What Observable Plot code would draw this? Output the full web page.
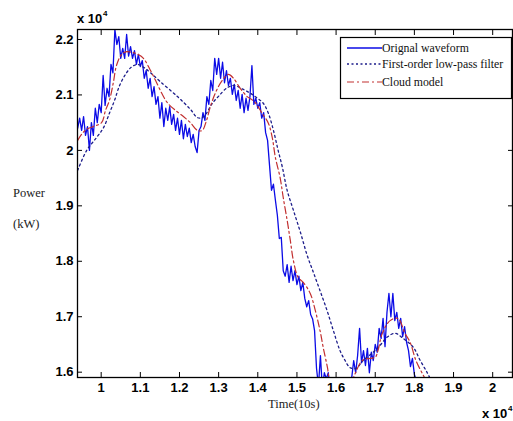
<!DOCTYPE html>
<html>
<head>
<meta charset="utf-8">
<script src="https://cdn.jsdelivr.net/npm/d3@7"></script>
<script src="https://cdn.jsdelivr.net/npm/@observablehq/plot@0.6"></script>
<style>
  html, body { margin: 0; padding: 0; background: white; }
  #chart { width: 513px; height: 421px; overflow: hidden; }
</style>
</head>
<body>
<div id="chart"></div>
<script>
// Time in units of 10^4 (×10 s), power in units of 10^4 kW
const originalWaveform = [
  [0.940,2.040],[0.945,2.058],[0.950,2.036],[0.955,2.061],[0.960,2.027],[0.965,2.043],[0.970,2.000],[0.975,2.050],
  [0.980,2.027],[0.985,2.076],[0.990,2.050],[0.995,2.083],[1.000,2.068],[1.005,2.135],[1.010,2.081],[1.015,2.112],
  [1.020,2.097],[1.025,2.155],[1.030,2.140],[1.035,2.218],[1.040,2.191],[1.045,2.205],[1.050,2.166],[1.055,2.184],
  [1.060,2.166],[1.065,2.209],[1.070,2.170],[1.075,2.187],[1.080,2.166],[1.085,2.180],[1.090,2.155],[1.095,2.173],
  [1.100,2.151],[1.105,2.162],[1.110,2.130],[1.115,2.144],[1.120,2.112],[1.125,2.130],[1.130,2.097],[1.135,2.115],
  [1.140,2.083],[1.145,2.097],[1.150,2.058],[1.155,2.086],[1.160,2.043],[1.165,2.076],[1.170,2.054],[1.175,2.079],
  [1.180,2.047],[1.185,2.065],[1.190,2.036],[1.195,2.058],[1.200,2.029],[1.205,2.054],[1.210,2.021],[1.215,2.047],
  [1.220,2.025],[1.225,2.040],[1.230,2.014],[1.235,2.029],[1.240,2.007],[1.245,1.996],[1.250,2.036],[1.255,2.043],
  [1.260,2.068],[1.265,2.054],[1.270,2.097],[1.275,2.083],[1.280,2.126],[1.285,2.108],[1.290,2.166],[1.295,2.137],
  [1.300,2.166],[1.305,2.130],[1.310,2.159],[1.315,2.122],[1.320,2.144],[1.325,2.117],[1.330,2.130],[1.335,2.101],
  [1.340,2.119],[1.345,2.090],[1.350,2.108],[1.355,2.076],[1.360,2.101],[1.365,2.068],[1.370,2.094],[1.375,2.072],
  [1.380,2.097],[1.385,2.153],[1.390,2.083],[1.395,2.094],[1.400,2.076],[1.405,2.086],[1.410,2.058],[1.415,2.068],
  [1.420,2.032],[1.425,2.018],[1.430,1.973],[1.435,1.928],[1.440,1.939],[1.445,1.910],[1.450,1.883],[1.455,1.841],
  [1.460,1.843],[1.465,1.783],[1.470,1.773],[1.475,1.794],[1.480,1.762],[1.485,1.791],[1.490,1.765],[1.495,1.783],
  [1.500,1.758],[1.505,1.773],[1.510,1.747],[1.515,1.762],[1.520,1.733],[1.525,1.718],[1.530,1.729],[1.535,1.704],
  [1.540,1.696],[1.545,1.675],[1.550,1.607],[1.555,1.575],[1.560,1.630],[1.565,1.570],[1.570,1.599],[1.575,1.588],
  [1.580,1.599],[1.585,1.570],[1.600,1.550],[1.620,1.540],[1.635,1.560],[1.645,1.621],[1.650,1.599],[1.655,1.630],
  [1.660,1.679],[1.665,1.617],[1.670,1.639],[1.675,1.612],[1.680,1.643],[1.685,1.599],[1.690,1.636],[1.695,1.621],
  [1.700,1.650],[1.705,1.636],[1.710,1.679],[1.715,1.661],[1.720,1.697],[1.725,1.646],[1.730,1.708],[1.735,1.742],
  [1.740,1.700],[1.745,1.742],[1.750,1.693],[1.755,1.708],[1.760,1.679],[1.765,1.697],[1.770,1.664],[1.775,1.682],
  [1.780,1.654],[1.785,1.639],[1.790,1.610],[1.795,1.625],[1.800,1.596],[1.805,1.585],[1.815,1.560]
];

const lowPassFilter = [
  [0.940,1.964],[0.963,2.000],[0.988,2.023],[1.006,2.041],[1.021,2.067],[1.034,2.090],[1.047,2.117],[1.062,2.137],
  [1.077,2.150],[1.093,2.155],[1.108,2.150],[1.126,2.140],[1.151,2.124],[1.195,2.097],[1.228,2.074],[1.246,2.059],
  [1.258,2.059],[1.269,2.067],[1.282,2.083],[1.299,2.097],[1.322,2.113],[1.340,2.117],[1.363,2.110],[1.381,2.103],
  [1.399,2.094],[1.414,2.085],[1.427,2.067],[1.440,2.036],[1.452,2.000],[1.463,1.969],[1.475,1.928],[1.491,1.892],
  [1.509,1.852],[1.526,1.811],[1.542,1.780],[1.559,1.747],[1.577,1.711],[1.593,1.675],[1.610,1.639],[1.623,1.621],
  [1.636,1.608],[1.651,1.607],[1.669,1.621],[1.695,1.636],[1.712,1.648],[1.730,1.663],[1.751,1.670],[1.771,1.661],
  [1.797,1.645],[1.815,1.621],[1.832,1.600],[1.843,1.585]
];

const cloudModel = [
  [0.940,2.018],[0.950,2.029],[0.963,2.038],[0.980,2.043],[1.001,2.050],[1.011,2.072],[1.021,2.090],[1.031,2.122],
  [1.039,2.153],[1.052,2.173],[1.065,2.178],[1.077,2.177],[1.095,2.173],[1.108,2.166],[1.126,2.144],[1.139,2.126],
  [1.154,2.104],[1.169,2.086],[1.190,2.072],[1.210,2.061],[1.228,2.050],[1.246,2.036],[1.258,2.036],[1.269,2.054],
  [1.279,2.079],[1.292,2.104],[1.309,2.126],[1.325,2.137],[1.338,2.130],[1.355,2.112],[1.373,2.097],[1.391,2.088],
  [1.411,2.067],[1.427,2.049],[1.437,2.023],[1.445,1.987],[1.457,1.951],[1.465,1.915],[1.475,1.874],[1.483,1.838],
  [1.491,1.801],[1.503,1.771],[1.516,1.762],[1.534,1.742],[1.547,1.711],[1.559,1.675],[1.567,1.645],[1.578,1.608],
  [1.585,1.580],[1.610,1.550],[1.636,1.575],[1.649,1.598],[1.667,1.621],[1.687,1.625],[1.700,1.627],[1.707,1.639],
  [1.718,1.670],[1.738,1.693],[1.758,1.697],[1.776,1.670],[1.789,1.654],[1.804,1.621],[1.820,1.598],[1.830,1.585]
];

const xTicks = [1, 1.1, 1.2, 1.3, 1.4, 1.5, 1.6, 1.7, 1.8, 1.9, 2];
const yTicks = [1.6, 1.7, 1.8, 1.9, 2, 2.1, 2.2];
const legendLabels = ["Orignal waveform", "First-order low-pass filter", "Cloud model"];

const toRows = arr => arr.map(([t, p]) => ({t, p}));

const colWave = "#0b0be6";
const colLpf = "#1c1c8a";
const colCloud = "#c23030";
const sans = "'Liberation Sans', Arial, sans-serif";
const serif = "'Liberation Serif', 'Times New Roman', serif";

const chart = Plot.plot({
  width: 513,
  height: 421,
  marginLeft: 77,
  marginTop: 29,
  marginRight: 1,
  marginBottom: 44,
  style: {background: "white", fontFamily: sans, fontSize: "13px", fontWeight: "bold", color: "black"},
  x: {domain: [0.9395, 2.0506], label: null},
  y: {domain: [1.5904, 2.218], label: null},
  marks: [
    Plot.line(toRows(originalWaveform), {x: "t", y: "p", stroke: colWave, strokeWidth: 1.3, clip: true}),
    Plot.line(toRows(lowPassFilter), {x: "t", y: "p", stroke: colLpf, strokeWidth: 1.3, strokeDasharray: "2,3", curve: "catmull-rom", clip: true}),
    Plot.line(toRows(cloudModel), {x: "t", y: "p", stroke: colCloud, strokeWidth: 1.2, strokeDasharray: "7,3,2,3", curve: "catmull-rom", clip: true}),
    Plot.frame({stroke: "black", strokeWidth: 1.3}),
    Plot.axisX(xTicks, {anchor: "bottom", tickSize: -5, tickPadding: 10, tickFormat: d => String(d), label: null, fill: "black"}),
    Plot.axisX(xTicks, {anchor: "top", tickSize: -5, tickFormat: () => "", label: null}),
    Plot.axisY(yTicks, {anchor: "left", tickSize: -5, tickPadding: 9, tickFormat: d => String(d), label: null, fill: "black"}),
    Plot.axisY(yTicks, {anchor: "right", tickSize: -5, tickFormat: () => "", label: null})
  ]
});

document.getElementById("chart").appendChild(chart);

// Annotations
const svg = d3.select(chart);
function addText(x, y, str, opts = {}) {
  return svg.append("text")
    .attr("x", x).attr("y", y)
    .attr("font-family", opts.family || serif)
    .attr("font-size", opts.size || 12.5)
    .attr("font-weight", opts.weight || "normal")
    .attr("fill", opts.fill || "#222")
    .attr("text-anchor", opts.anchor || "start")
    .text(str);
}
addText(13, 197, "Power");
addText(13, 228, "(kW)");
addText(268, 408, "Time(10s)");
// exponent labels
addText(77, 23, "x 10", {family: sans, size: 13, weight: "bold", fill: "black"});
addText(103, 16, "4", {family: sans, size: 8, weight: "bold", fill: "black"});
addText(482, 418, "x 10", {family: sans, size: 13, weight: "bold", fill: "black"});
addText(508, 411, "4", {family: sans, size: 8, weight: "bold", fill: "black"});

// Legend
const lg = svg.append("g");
lg.append("rect").attr("x", 340.5).attr("y", 37.5).attr("width", 171).attr("height", 61)
  .attr("fill", "white").attr("stroke", "black").attr("stroke-width", 1.2);
const legendStyles = [
  {stroke: colWave, dash: null, width: 1.3},
  {stroke: colLpf, dash: "2,2.5", width: 1.3},
  {stroke: colCloud, dash: "7,3,2,3", width: 1.2}
];
const legendY = [48, 64, 82];
legendLabels.forEach((lab, i) => {
  const s = legendStyles[i];
  const l = lg.append("line").attr("x1", 347).attr("x2", 382).attr("y1", legendY[i]).attr("y2", legendY[i])
    .attr("stroke", s.stroke).attr("stroke-width", s.width);
  if (s.dash) l.attr("stroke-dasharray", s.dash);
  lg.append("text").attr("x", 382).attr("y", legendY[i] + 4)
    .attr("text-anchor", "start").attr("font-weight", "normal")
    .attr("font-family", serif).attr("font-size", 11.8).attr("fill", "#111").text(lab);
});
</script>
</body>
</html>
